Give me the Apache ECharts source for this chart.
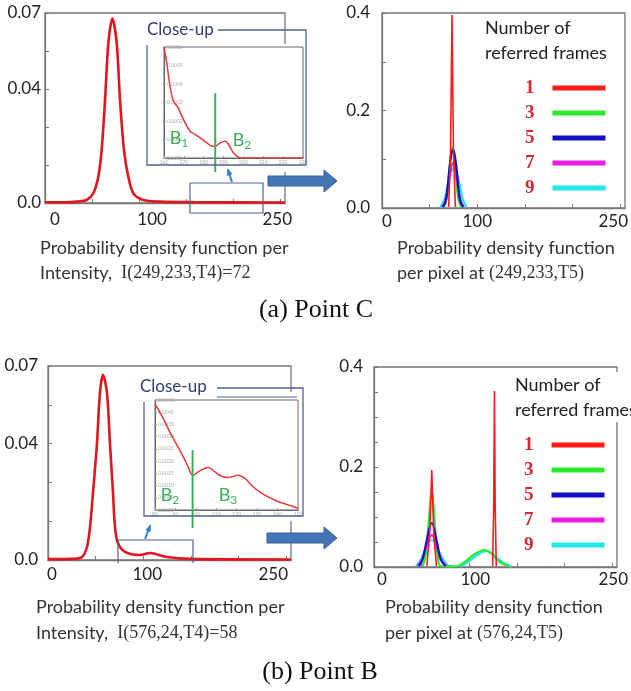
<!DOCTYPE html>
<html>
<head>
<meta charset="utf-8">
<script src="https://cdn.jsdelivr.net/npm/echarts@6/dist/echarts.min.js"></script>
<style>
html, body { margin: 0; padding: 0; background: #fff; }
#chart { width: 631px; height: 691px; }
</style>
</head>
<body>
<div id="chart"></div>
<script>
// ---- data ----
// (a) Point C : pdf per intensity, I(249,233,T4)=72
const pdfC = [[0, 0.0003], [20, 0.0003], [33.7, 0.0005], [44.3, 0.0011], [51.3, 0.0036], [56.6, 0.0097],
  [60.2, 0.0195], [63.8, 0.038], [67.3, 0.0588], [71.6, 0.068], [76.2, 0.0588], [79.7, 0.038],
  [83.9, 0.0195], [88.5, 0.0097], [93.8, 0.0036], [104.4, 0.0011], [122, 0.0005], [160, 0.0003], [255, 0.0002]]
// close-up of the tail (intensity 160..230)
const closeupC = [[160, 0.0006], [161.3, 0.00052], [163, 0.00039], [164.7, 0.00031], [167.2, 0.00027],
  [169.7, 0.00021], [173.1, 0.000145], [175.7, 0.000127], [178.2, 0.000109], [181.6, 0.000082],
  [184.1, 0.000064], [185.8, 0.000064], [188.3, 0.000082], [190.8, 0.000091], [192.5, 0.000073],
  [195, 0.000027], [197.5, 0.000005], [200, 0], [230, 0]]
const boundaryC = [[185.8, 0.00035], [185.8, -0.000076]]

// (a) pdf per pixel for 1,3,5,7,9 referred frames
const pixC1 = [[70, 0.002], [72, 0.12], [73.4, 0.396], [75, 0.12], [77, 0.002]]
const pixC3 = [[65, 0.002], [68, 0.02], [70, 0.06], [72, 0.105], [74, 0.125], [76, 0.105], [78, 0.06], [80, 0.02], [83, 0.002]]
const pixC5 = [[64, 0.002], [67, 0.015], [69, 0.045], [71, 0.085], [73, 0.112], [74.5, 0.119], [76, 0.112], [78, 0.085], [80, 0.045], [82, 0.015], [85, 0.002]]
const pixC7 = [[63, 0.002], [66, 0.012], [69, 0.04], [72, 0.078], [74.5, 0.092], [77, 0.078], [80, 0.04], [83, 0.012], [86, 0.002]]
const pixC9 = [[61, 0.002], [65, 0.015], [68, 0.038], [71, 0.065], [74, 0.08], [76, 0.082], [79, 0.07], [82, 0.042], [85, 0.016], [89, 0.002]]

// (b) Point B : pdf per intensity, I(576,24,T4)=58
const pdfB = [[0, 0.0003], [26.2, 0.0004], [35.7, 0.0011], [40.9, 0.0047], [44.1, 0.0119], [47.2, 0.0242],
  [51.4, 0.0422], [54.5, 0.0603], [57.7, 0.0668], [61.9, 0.0603], [65, 0.0422], [68.2, 0.0242],
  [70.3, 0.0119], [73.4, 0.0061], [80.8, 0.0029], [96.5, 0.0018], [107, 0.0025], [124.8, 0.0011],
  [149, 0.0004], [255, 0.0002]]
// close-up (intensity 80..150)
const closeupB = [[80, 0.00434], [84.1, 0.00373], [88.1, 0.00305], [92.2, 0.00244], [95.5, 0.0019],
  [98.7, 0.00142], [101.1, 0.00156], [106, 0.00174], [109.3, 0.00156], [112.6, 0.00138],
  [115.8, 0.00133], [120.7, 0.00142], [124, 0.00129], [128, 0.00095], [132.9, 0.00065],
  [139.4, 0.00038], [145.9, 0.00019], [150, 0.00007]]
const boundaryB = [[98.4, 0.00245], [98.4, -0.00074]]

const pixB1 = [[55.5, 0.002], [58.5, 0.07], [60.6, 0.194], [62.7, 0.07], [65.5, 0.002], ['-', '-'],
  [124.5, 0.002], [125.6, 0.12], [126.4, 0.352], [127.2, 0.12], [128.3, 0.002]]
const pixB3 = [[51, 0.002], [54, 0.02], [57, 0.08], [60.6, 0.148], [64, 0.08], [67, 0.02], [70, 0.002],
  [85, 0.001], [95, 0.01], [105, 0.025], [116, 0.034], [124, 0.025], [132, 0.01], [142, 0.001]]
const pixB5 = [[47, 0.002], [51, 0.015], [55, 0.05], [60.6, 0.088], [66, 0.05], [70, 0.015], [75, 0.002]]
const pixB7 = [[46, 0.002], [50, 0.014], [55, 0.04], [60.6, 0.064], [66, 0.04], [71, 0.014], [76, 0.002]]
const pixB9 = [[44, 0.002], [49, 0.014], [54, 0.036], [60.6, 0.054], [67, 0.036], [73, 0.014], [80, 0.002],
  [90, 0.002], [100, 0.012], [110, 0.026], [119, 0.032], [127, 0.022], [136, 0.008], [145, 0.001]]

const frameNames = ['1', '3', '5', '7', '9']
const frameColors = ['#ff1a1a', '#2ee82e', '#1010c8', '#e81ee8', '#22e8e8']
const xTicks = [50, 100, 150, 200, 250]

// ---- styles ----
const SANS = 'Lato'
const SERIF = 'Liberation Serif'
const AXIS = '#777'
const FRAME = '#52628f'
const GREEN = '#3daf5c'
const BLUE_ARROW = '#4475b4'

function xLabels(shifts, margin) {
  // hand placed tick labels of the original figure, nudged with padding
  const rich = {}
  Object.keys(shifts).forEach(k => {
    const d = shifts[k]
    rich['v' + k] = { fontFamily: SANS, fontSize: 17, color: '#222', padding: d >= 0 ? [0, 0, 0, 2 * d] : [0, -2 * d, 0, 0] }
  })
  return {
    customValues: Object.keys(shifts).map(Number),
    formatter: v => `{v${v}|${v}}`,
    rich: rich,
    margin: margin
  }
}

function mainX(gridIndex, shifts, margin) {
  return {
    type: 'value', gridIndex: gridIndex, min: 0, max: 255,
    axisLine: { show: true, lineStyle: { color: AXIS, width: 1.3 } },
    axisTick: { show: true, inside: true, length: 4, customValues: xTicks, lineStyle: { color: AXIS } },
    splitLine: { show: false },
    axisLabel: xLabels(shifts, margin)
  }
}

function mainY(gridIndex, max, interval, labels, margin) {
  return {
    type: 'value', gridIndex: gridIndex, min: 0, max: max, interval: interval,
    axisLine: { show: true, lineStyle: { color: AXIS, width: 1.3 } },
    axisTick: { show: true, inside: true, length: 4, lineStyle: { color: AXIS } },
    splitLine: { show: false },
    axisLabel: {
      customValues: Object.keys(labels).map(Number),
      formatter: v => labels[String(v)],
      fontFamily: SANS, fontSize: 17, color: '#222', margin: margin
    }
  }
}

function insetX(gridIndex, min, max) {
  return {
    type: 'value', gridIndex: gridIndex, min: min, max: max, interval: 10, z: 6,
    axisLine: { show: true, lineStyle: { color: '#666', width: 1 } },
    axisTick: { show: true, inside: true, length: 2, lineStyle: { color: '#999' } },
    splitLine: { show: false },
    axisLabel: { fontSize: 5, color: '#aaa', margin: 2, fontFamily: SANS }
  }
}

function insetY(gridIndex, max, interval) {
  return {
    type: 'value', gridIndex: gridIndex, min: 0, max: max, interval: interval, z: 6,
    axisLine: { show: true, lineStyle: { color: '#666', width: 1 } },
    axisTick: { show: true, inside: true, length: 2, lineStyle: { color: '#999' } },
    splitLine: { show: false },
    axisLabel: { inside: true, fontSize: 5, color: '#aaa', margin: 3, fontFamily: SANS, formatter: v => v.toFixed(4) }
  }
}

function curve(name, axis, data, color, width, z, smooth) {
  return {
    name: name, type: 'line', xAxisIndex: axis, yAxisIndex: axis, data: data,
    showSymbol: false, smooth: smooth, z: z, silent: true,
    itemStyle: { color: color },
    lineStyle: { color: color, width: width }
  }
}

function frameSeries(axis, sets, order) {
  return order.map(i => curve(frameNames[i], axis, sets[i], frameColors[i], i === 0 ? 1.6 : 2.2, 3 + order.indexOf(i), i === 0 ? false : 0.4))
}

// ---- graphic helpers (annotations, captions) ----
const graphics = []
function addText(x, y, str, style, align) {
  graphics.push({
    type: 'text', x: x, y: y, z: 20, silent: true,
    style: Object.assign({ text: str, align: align || 'left', verticalAlign: 'middle', fill: '#333' }, style)
  })
}
function addPoly(points, stroke, width, z) {
  graphics.push({ type: 'polyline', z: z || 15, silent: true, shape: { points: points }, style: { stroke: stroke, lineWidth: width, fill: null } })
}
function addRect(x, y, w, h, fill, z) {
  graphics.push({ type: 'rect', z: z, silent: true, shape: { x: x, y: y, width: w, height: h }, style: { fill: fill } })
}
function addSmallArrow(x1, y1, x2, y2) {
  const a = Math.atan2(y2 - y1, x2 - x1)
  const L = 6
  graphics.push({ type: 'line', z: 16, silent: true, shape: { x1: x1, y1: y1, x2: x2, y2: y2 }, style: { stroke: '#2f7fd0', lineWidth: 2 } })
  graphics.push({
    type: 'polygon', z: 16, silent: true,
    shape: { points: [[x2 + 2, y2 - 0], [x2 - L * Math.cos(a - 0.5), y2 - L * Math.sin(a - 0.5)], [x2 - L * Math.cos(a + 0.5), y2 - L * Math.sin(a + 0.5)]].map((p, i) => i === 0 ? [x2 + Math.cos(a) * 2, y2 + Math.sin(a) * 2] : p) },
    style: { fill: '#2f7fd0' }
  })
}
function addBigArrow(x0, x1, yc) {
  graphics.push({
    type: 'polygon', z: 16, silent: true,
    shape: { points: [[x0, yc - 5], [x1 - 13, yc - 5], [x1 - 13, yc - 11], [x1, yc], [x1 - 13, yc + 11], [x1 - 13, yc + 5], [x0, yc + 5]] },
    style: { fill: BLUE_ARROW, stroke: '#35609a', lineWidth: 1 }
  })
}

const captionRich = {
  s: { fontFamily: SANS, fontSize: 18, fill: '#333' },
  t: { fontFamily: SERIF, fontSize: 18, fill: '#333' }
}
const subRich = {
  b: { fontFamily: SANS, fontSize: 18, fill: GREEN },
  n: { fontFamily: SANS, fontSize: 12, fill: GREEN, padding: [10, 0, 0, 0] }
}

// panel (a) annotations
addRect(147, 44, 160, 128, '#fff', 5)
addPoly([[218, 30], [306, 30], [306, 165], [147, 165], [147, 45]], FRAME, 1.3)
addText(147, 30, 'Close-up', { fontFamily: SANS, fontSize: 17, fill: '#2f3e72' })
addText(179, 138, '{b|B}{n|1}', { rich: subRich }, 'center')
addText(242, 140, '{b|B}{n|2}', { rich: subRich }, 'center')
addPoly([[190, 183], [263, 183], [263, 213], [190, 213], [190, 183]], FRAME, 1.2)
addSmallArrow(232, 182, 228, 170)
addBigArrow(268, 337, 181)
addText(485, 28, 'Number of', { fontFamily: SANS, fontSize: 18, fill: '#222' })
addText(485, 53, 'referred frames', { fontFamily: SANS, fontSize: 18, fill: '#222' })
addText(40, 248, '{s|Probability density function per}', { rich: captionRich })
addText(40, 273, '{s|Intensity,  }{t|I(249,233,T4)=72}', { rich: captionRich })
addText(397, 248, '{s|Probability density function}', { rich: captionRich })
addText(397, 273, '{s|per pixel at }{t|(249,233,T5)}', { rich: captionRich })
addText(316, 310, '(a) Point C', { fontFamily: SERIF, fontSize: 26, fill: '#111' }, 'center')

// panel (b) annotations
addRect(144, 392, 160, 129, '#fff', 5)
addPoly([[217, 388], [303, 388], [303, 516], [144, 516], [144, 402]], FRAME, 1.3)
addPoly([[217, 397], [297, 397]], FRAME, 1.2)
addText(140, 387, 'Close-up', { fontFamily: SANS, fontSize: 17, fill: '#2f3e72' })
addText(170, 495, '{b|B}{n|2}', { rich: subRich }, 'center')
addText(228, 495, '{b|B}{n|3}', { rich: subRich }, 'center')
addPoly([[118, 563], [118, 540], [193, 540], [193, 563]], FRAME, 1.2)
addSmallArrow(145, 539, 150, 526)
addBigArrow(267, 337, 538)
addRect(512, 372, 119, 50, '#fff', 5)
addText(515, 385, 'Number of', { fontFamily: SANS, fontSize: 18, fill: '#222' })
addText(515, 410, 'referred frames', { fontFamily: SANS, fontSize: 18, fill: '#222' })
addText(36, 607, '{s|Probability density function per}', { rich: captionRich })
addText(36, 633, '{s|Intensity,  }{t|I(576,24,T4)=58}', { rich: captionRich })
addText(385, 607, '{s|Probability density function}', { rich: captionRich })
addText(385, 633, '{s|per pixel at }{t|(576,24,T5)}', { rich: captionRich })
addText(320, 672, '(b) Point B', { fontFamily: SERIF, fontSize: 26, fill: '#111' }, 'center')

const legendBase = {
  data: frameNames, orient: 'vertical', align: 'right', icon: 'rect',
  itemWidth: 53, itemHeight: 5, itemGap: 5, selectedMode: false,
  textStyle: { fontFamily: SERIF, fontWeight: 'bold', fontSize: 19, color: '#d42a34', lineHeight: 20, padding: [0, 13, 0, 0] }
}

const gridBox = { show: true, borderColor: AXIS, borderWidth: 1.3, backgroundColor: 'transparent' }

const option = {
  animation: false,
  backgroundColor: '#fff',
  grid: [
    Object.assign({ left: 45, top: 13, width: 240, height: 190 }, gridBox),
    Object.assign({ left: 382, top: 13, width: 243, height: 195 }, gridBox),
    Object.assign({ left: 48, top: 366, width: 243, height: 194 }, gridBox),
    Object.assign({ left: 374, top: 367, width: 248, height: 200 }, gridBox),
    { left: 164, top: 47, width: 139, height: 111, show: true, z: 6, borderColor: '#666', borderWidth: 1, backgroundColor: 'transparent' },
    { left: 155, top: 400, width: 143, height: 110, show: true, z: 6, borderColor: '#666', borderWidth: 1, backgroundColor: 'transparent' }
  ],
  xAxis: [
    mainX(0, { 0: 10, 100: 13, 250: -3 }, 8),
    mainX(1, { 0: 5, 100: 0, 250: -7 }, 5),
    mainX(2, { 0: 4, 100: 4, 250: -13 }, 6),
    mainX(3, { 0: 8, 100: 6, 250: 1 }, 4),
    insetX(4, 160, 230),
    insetX(5, 80, 150)
  ],
  yAxis: [
    mainY(0, 0.07, 0.014, { '0': '0.0', '0.042': '0.04', '0.07': '0.07' }, 4),
    mainY(1, 0.4, 0.1, { '0': '0.0', '0.2': '0.2', '0.4': '0.4' }, 12),
    mainY(2, 0.07, 0.014, { '0': '0.0', '0.042': '0.04', '0.07': '0.07' }, 10),
    mainY(3, 0.4, 0.05, { '0': '0.0', '0.2': '0.2', '0.4': '0.4' }, 11),
    insetY(4, 0.0006, 0.0001),
    insetY(5, 0.0045, 0.0005)
  ],
  legend: [
    Object.assign({ left: 520, top: 73 }, legendBase),
    Object.assign({ left: 519, top: 430 }, legendBase)
  ],
  series: [
    curve('pdfC', 0, pdfC, '#e3141b', 2.6, 3, 0.3),
    curve('closeupC', 4, closeupC, '#e53a3a', 1.5, 8, 0.4),
    Object.assign(curve('boundaryC', 4, boundaryC, GREEN, 2, 9, false), { clip: false }),
    ...frameSeries(1, [pixC1, pixC3, pixC5, pixC7, pixC9], [1, 4, 3, 2, 0]),
    curve('pdfB', 2, pdfB, '#e3141b', 2.6, 3, 0.3),
    curve('closeupB', 5, closeupB, '#e53a3a', 1.5, 8, 0.4),
    Object.assign(curve('boundaryB', 5, boundaryB, GREEN, 2, 9, false), { clip: false }),
    ...frameSeries(3, [pixB1, pixB3, pixB5, pixB7, pixB9], [4, 1, 3, 2, 0])
  ],
  graphic: { elements: graphics }
}

const chart = echarts.init(document.getElementById('chart'))
chart.setOption(option)
</script>
</body>
</html>
